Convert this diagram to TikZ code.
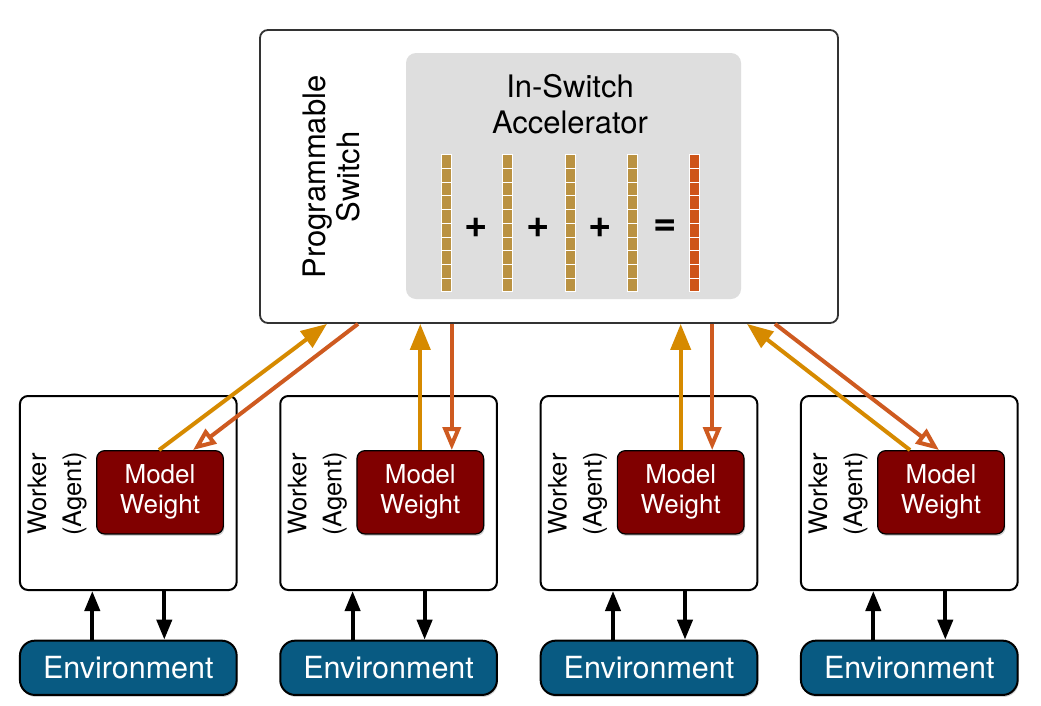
\documentclass[tikz,border=0pt]{standalone}
\usepackage{fontspec}
\setmainfont{TeX Gyre Heros}
\usetikzlibrary{arrows.meta,shadows}
\definecolor{vgold}{RGB}{186,146,66}
\definecolor{vorange}{RGB}{206,84,24}
\definecolor{goldarrow}{RGB}{214,138,0}
\definecolor{orarrow}{RGB}{206,90,32}
\definecolor{modelred}{RGB}{128,0,0}
\definecolor{envblue}{RGB}{8,90,130}
\definecolor{accgray}{RGB}{222,222,222}
\tikzset{
  switchbox/.style={draw=black!80, line width=1.8pt, rounded corners=8pt, fill=white,
    minimum width=578pt, minimum height=293pt, inner sep=0pt},
  accbox/.style={fill=accgray, rounded corners=10pt, minimum width=335pt,
    minimum height=246pt, inner sep=0pt},
  workerbox/.style={draw=black, line width=2pt, rounded corners=8pt, fill=white,
    minimum width=216.7pt, minimum height=194pt, inner sep=0pt},
  modelbox/.style={draw=black, line width=1.2pt, fill=modelred, rounded corners=8pt,
    text=white, align=center, minimum width=126.7pt, minimum height=83.3pt, inner sep=0pt,
    font=\fontsize{26}{30}\selectfont,
    drop shadow={shadow xshift=1pt, shadow yshift=-2pt, opacity=0.35}},
  envbox/.style={draw=black, line width=2pt, fill=envblue, rounded corners=15pt,
    text=white, minimum width=216.7pt, minimum height=54.3pt, inner sep=0pt,
    font=\fontsize{30.5}{34}\selectfont,
    drop shadow={shadow xshift=1pt, shadow yshift=-2pt, opacity=0.35}},
  workertext/.style={rotate=90, align=center, font=\fontsize{25.5}{35}\selectfont, inner sep=0pt},
  toswitch/.style={draw=goldarrow, line width=4pt, -{Triangle[length=26pt,width=20pt]}},
  fromswitch/.style={draw=orarrow, line width=4pt, -{Triangle[open,length=23pt,width=18pt,fill=white]}},
  envarrow/.style={draw=black, line width=4pt, -{Triangle[length=20pt,width=15pt]}},
  opsym/.style={font=\fontsize{40}{40}\selectfont\bfseries, inner sep=0pt}
}
\begin{document}
\begin{tikzpicture}[x=1pt,y=-1pt]
\useasboundingbox (0,0) rectangle (1041,705);

% switch
\node[switchbox] (switch) at (549,176.5) {};
\node[accbox] (accel) at (573.5,176) {};
\node[align=center, font=\fontsize{31}{36}\selectfont, inner sep=0pt] (acctext) at (570,104) {In-Switch\\Accelerator};
\node[rotate=90, align=center, font=\fontsize{31}{34}\selectfont, inner sep=0pt] (swtext) at (331,177) {Programmable\\Switch};

% vectors
\foreach \cx/\col in {446/vgold,507.5/vgold,570/vgold,632.5/vgold,694.5/vorange}{
  \foreach \i in {0,...,9}{
    \draw[white, line width=0.8pt, fill=\col] (\cx-5,154.7+13.7*\i) rectangle ++(10,13.7);
  }
}
\node[opsym] (p1) at (476,228) {+};
\node[opsym] (p2) at (538,228) {+};
\node[opsym] (p3) at (600,228) {+};
\node[opsym] (eq) at (665,228) {=};

% workers
\foreach \k/\dx in {1/0,2/260.3,3/520.7,4/781}{
  \node[workerbox] (w\k) at (128.3+\dx,493) {};
  \node[workertext] (wt\k) at (57+\dx,494) {Worker\\(Agent)};
  \node[modelbox] (m\k) at (160+\dx,492.3) {Model\\Weight};
  \node[envbox] (e\k) at (128.3+\dx,667.8) {Environment};
  \draw[envarrow] ([xshift=-36pt]e\k.north) -- ([xshift=-36pt]e\k.north |- w\k.south);
  \draw[envarrow] ([xshift=36pt]w\k.south) -- ([xshift=36pt]w\k.south |- e\k.north);
}

% switch connection points
\coordinate (s1g) at ([xshift=-222pt]switch.south);
\coordinate (s1o) at ([xshift=-191pt]switch.south);
\coordinate (s4g) at ([xshift=198pt]switch.south);
\coordinate (s4o) at ([xshift=226pt]switch.south);

\draw[toswitch] ([xshift=-1pt]m1.north) -- (s1g);
\draw[fromswitch] (s1o) -- ([xshift=33pt]m1.north);

\draw[toswitch] (m2.north) -- (m2.north |- switch.south);
\draw[fromswitch] ([xshift=31.5pt]m2.north |- switch.south) -- ([xshift=31.5pt]m2.north);

\draw[toswitch] (m3.north) -- (m3.north |- switch.south);
\draw[fromswitch] ([xshift=31.5pt]m3.north |- switch.south) -- ([xshift=31.5pt]m3.north);

\draw[toswitch] ([xshift=-31pt]m4.north) -- (s4g);
\draw[fromswitch] (s4o) -- ([xshift=-2pt]m4.north);
\end{tikzpicture}
\end{document}
